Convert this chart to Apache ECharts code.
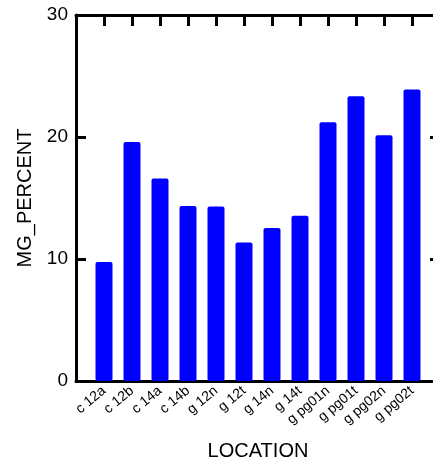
<!DOCTYPE html>
<html>
<head>
<meta charset="utf-8">
<script src="https://cdn.jsdelivr.net/npm/echarts@6/dist/echarts.min.js"></script>
<style>
  html, body { margin: 0; padding: 0; background: #fff; }
  #chart { width: 433px; height: 464px; }
</style>
</head>
<body>
<div id="chart"></div>
<script>
// Sampling locations along the x axis
const locations = ['c 12a', 'c 12b', 'c 14a', 'c 14b', 'g 12n', 'g 12t', 'g 14n', 'g 14t',
                   'g pg01n', 'g pg01t', 'g pg02n', 'g pg02t'];
// Mg percentage measured at each location
const mgPercent = [9.75, 19.6, 16.6, 14.35, 14.3, 11.35, 12.55, 13.55, 21.2, 23.35, 20.15, 23.9];
// Value axis ticks
const yTicks = [0, 10, 20, 30];

const FONT = 'Liberation Sans, Arial, sans-serif';
const AXIS_LINE = { show: true, onZero: false, lineStyle: { color: '#000', width: 3 } };

const chart = echarts.init(document.getElementById('chart'), null, { renderer: 'canvas' });

// Categories sit on integer positions; one empty slot on each side
const xRange = { type: 'value', min: -1, max: locations.length, interval: 1 };

chart.setOption({
  animation: false,
  backgroundColor: '#fff',
  grid: { left: 76, top: 15, width: 364, height: 366, containLabel: false, outerBoundsMode: 'none' },
  xAxis: [
    Object.assign({}, xRange, {
      position: 'bottom',
      name: 'LOCATION',
      nameLocation: 'middle',
      nameGap: 60,
      nameTextStyle: { fontFamily: FONT, fontSize: 20, color: '#000' },
      axisLine: AXIS_LINE,
      axisTick: { show: false },
      splitLine: { show: false },
      axisLabel: {
        rotate: 40,
        margin: 8,
        fontFamily: FONT,
        fontSize: 14,
        color: '#000',
        formatter: v => (locations[v] !== undefined ? locations[v] : '')
      }
    }),
    Object.assign({}, xRange, {
      position: 'top',
      axisLine: AXIS_LINE,
      axisTick: { show: true, inside: true, length: 11, lineStyle: { color: '#000', width: 3 } },
      axisLabel: { show: false },
      splitLine: { show: false }
    })
  ],
  yAxis: [
    {
      type: 'value',
      position: 'left',
      min: yTicks[0],
      max: yTicks[yTicks.length - 1],
      interval: 10,
      name: 'MG_PERCENT',
      nameLocation: 'middle',
      nameGap: 41,
      nameTextStyle: { fontFamily: FONT, fontSize: 20, color: '#000' },
      axisLine: AXIS_LINE,
      axisTick: { show: true, inside: true, length: 10, lineStyle: { color: '#000', width: 3 } },
      splitLine: { show: false },
      axisLabel: { margin: 8, fontFamily: FONT, fontSize: 19, color: '#000' }
    },
    {
      type: 'value',
      position: 'right',
      min: yTicks[0],
      max: yTicks[yTicks.length - 1],
      interval: 10,
      axisLine: AXIS_LINE,
      axisTick: { show: true, inside: true, length: 10, lineStyle: { color: '#000', width: 3 } },
      splitLine: { show: false },
      axisLabel: { show: false }
    }
  ],
  series: [{
    type: 'bar',
    xAxisIndex: 0,
    yAxisIndex: 0,
    barWidth: 17,
    itemStyle: { color: '#0000ff', borderRadius: 2 },
    data: mgPercent.map((v, i) => [i, v])
  }]
});
</script>
</body>
</html>
